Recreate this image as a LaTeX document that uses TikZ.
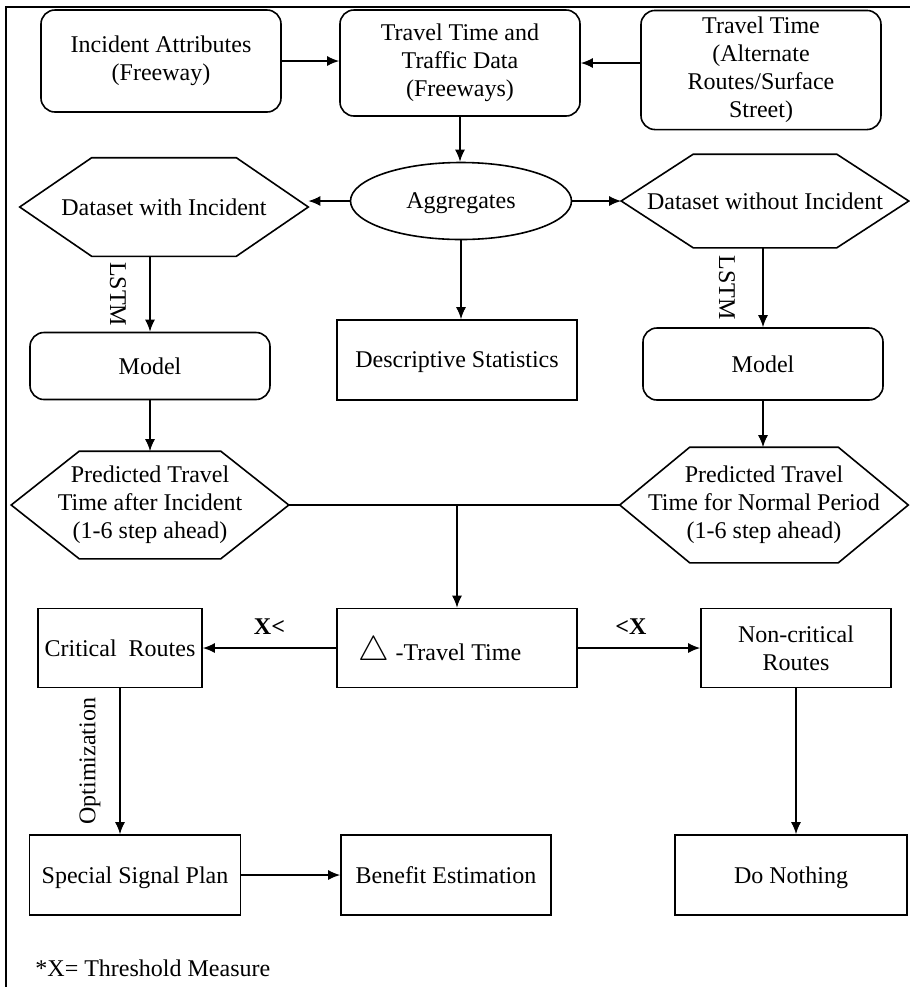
\documentclass[tikz,border=0pt]{standalone}
\usepackage{fontspec}
\setmainfont{Liberation Serif}
\usetikzlibrary{shapes.geometric, positioning, arrows.meta, calc}

\begin{document}
\begin{tikzpicture}[
    x=0.5pt, y=-0.5pt,
    thick,
    >={Latex[length=6pt, width=5pt]},
    font=\fontsize{12}{14}\selectfont,
    box/.style={draw, rectangle, align=center, minimum width=120pt, minimum height=40pt},
    rbox/.style={box, rounded corners=7pt},
    hexa/.style={rectangle, align=center, inner sep=1pt},
    oneline/.style={text depth=0pt},
    edgelbl/.style={font=\fontsize{12}{14}\selectfont\bfseries}
]
    \useasboundingbox (0,0) rectangle (910,987);
    % Frame
    \draw[line width=1.2pt] (6,987) -- (6,7) -- (910,7);

    % Input data
    \node[rbox, minimum height=51pt] (attr) at (161,61) {Incident Attributes\\(Freeway)};
    \node[rbox, minimum height=53pt] (ttdata) at (460,63) {Travel Time and\\Traffic Data\\(Freeways)};
    \node[rbox, minimum height=59.5pt] (alt) at (761,70) {Travel Time\\(Alternate\\Routes/Surface\\Street)};

    % Aggregation
    \node[draw, ellipse, oneline, minimum width=110.5pt, minimum height=38.5pt] (agg) at (461,201) {Aggregates};
    \node[hexa, oneline, minimum width=143.5pt, minimum height=48.5pt] (dswith) at (164,207) {Dataset with Incident};
    \node[hexa, oneline, minimum width=143pt, minimum height=46pt] (dswithout) at (765,201) {Dataset without Incident};
    \node[box, oneline] (desc) at (457,360) {Descriptive Statistics};

    % Models
    \node[rbox, oneline, minimum height=33.5pt] (modelL) at (150,366) {Model};
    \node[rbox, oneline, minimum height=36pt] (modelR) at (763,364) {Model};
    \node[hexa, minimum width=138pt, minimum height=53pt] (predL) at (150,505) {Predicted Travel\\Time after Incident\\(1-6 step ahead)};
    \node[hexa, minimum width=143.5pt, minimum height=57pt] (predR) at (764,505) {Predicted Travel\\Time for Normal Period\\(1-6 step ahead)};

    % Hexagon outlines
    \foreach \n/\d in {dswith/36pt, dswithout/36pt, predL/34pt, predR/35pt}
        \draw (\n.west) -- ([xshift=\d]\n.north west) -- ([xshift=-\d]\n.north east) -- (\n.east)
              -- ([xshift=-\d]\n.south east) -- ([xshift=\d]\n.south west) -- cycle;

    % Decision
    \node[box, oneline, minimum height=39.5pt] (delta) at (457,648) {{\fontsize{17}{17}\selectfont$\bigtriangleup$} -Travel Time\hspace*{17pt}};
    \node[box, oneline, minimum width=81pt, minimum height=39.5pt] (crit) at (120,648) {Critical~ Routes};
    \node[box, minimum width=95pt, minimum height=39.5pt] (noncrit) at (796,648) {Non-critical\\Routes};

    % Actions
    \node[box, oneline, minimum width=105.5pt] (ssp) at (135,875) {Special Signal Plan};
    \node[box, oneline, minimum width=105pt] (benefit) at (446,875) {Benefit Estimation};
    \node[box, oneline, minimum width=116pt] (nothing) at (791,875) {Do Nothing};
    \node[anchor=west] (note) at (28,968) {*X= Threshold Measure};

    % Arrows
    \draw[->] (attr.east) -- (attr.east -| ttdata.west);
    \draw[<-] (ttdata.east) -- (ttdata.east -| alt.west);
    \draw[->] (ttdata.south) -- (ttdata.south |- agg.north);
    \draw[->] (agg.west) -- (agg.west -| dswith.east);
    \draw[->] (agg.east) -- (agg.east -| dswithout.west);
    \draw[->] (agg.south) -- (agg.south |- desc.north);
    \draw[->] (modelL.north |- dswith.south) -- (modelL.north) node[midway, xshift=-16pt, rotate=-90] {LSTM};
    \draw[->] (modelR.north |- dswithout.south) -- (modelR.north) node[midway, xshift=-18pt, rotate=-90] {LSTM};
    \draw[->] (modelL.south) -- (modelL.south |- predL.north);
    \draw[->] (modelR.south) -- (modelR.south |- predR.north);
    \draw (predL.east) -- (predR.west);
    \coordinate (join) at (delta.north |- predL.east);
    \draw[->] (join) -- (delta.north);
    \draw[->] (delta.west) -- (crit.east) node[midway, above=3pt, edgelbl] {X<};
    \draw[->] (delta.east) -- (noncrit.west) node[midway, above=3pt, xshift=-4pt, edgelbl] {<X};
    \draw[->] (crit.south) -- (crit.south |- ssp.north) node[midway, xshift=-15pt, rotate=90] {Optimization};
    \draw[->] (noncrit.south) -- (noncrit.south |- nothing.north);
    \draw[->] (ssp.east) -- (benefit.west);
\end{tikzpicture}
\end{document}
